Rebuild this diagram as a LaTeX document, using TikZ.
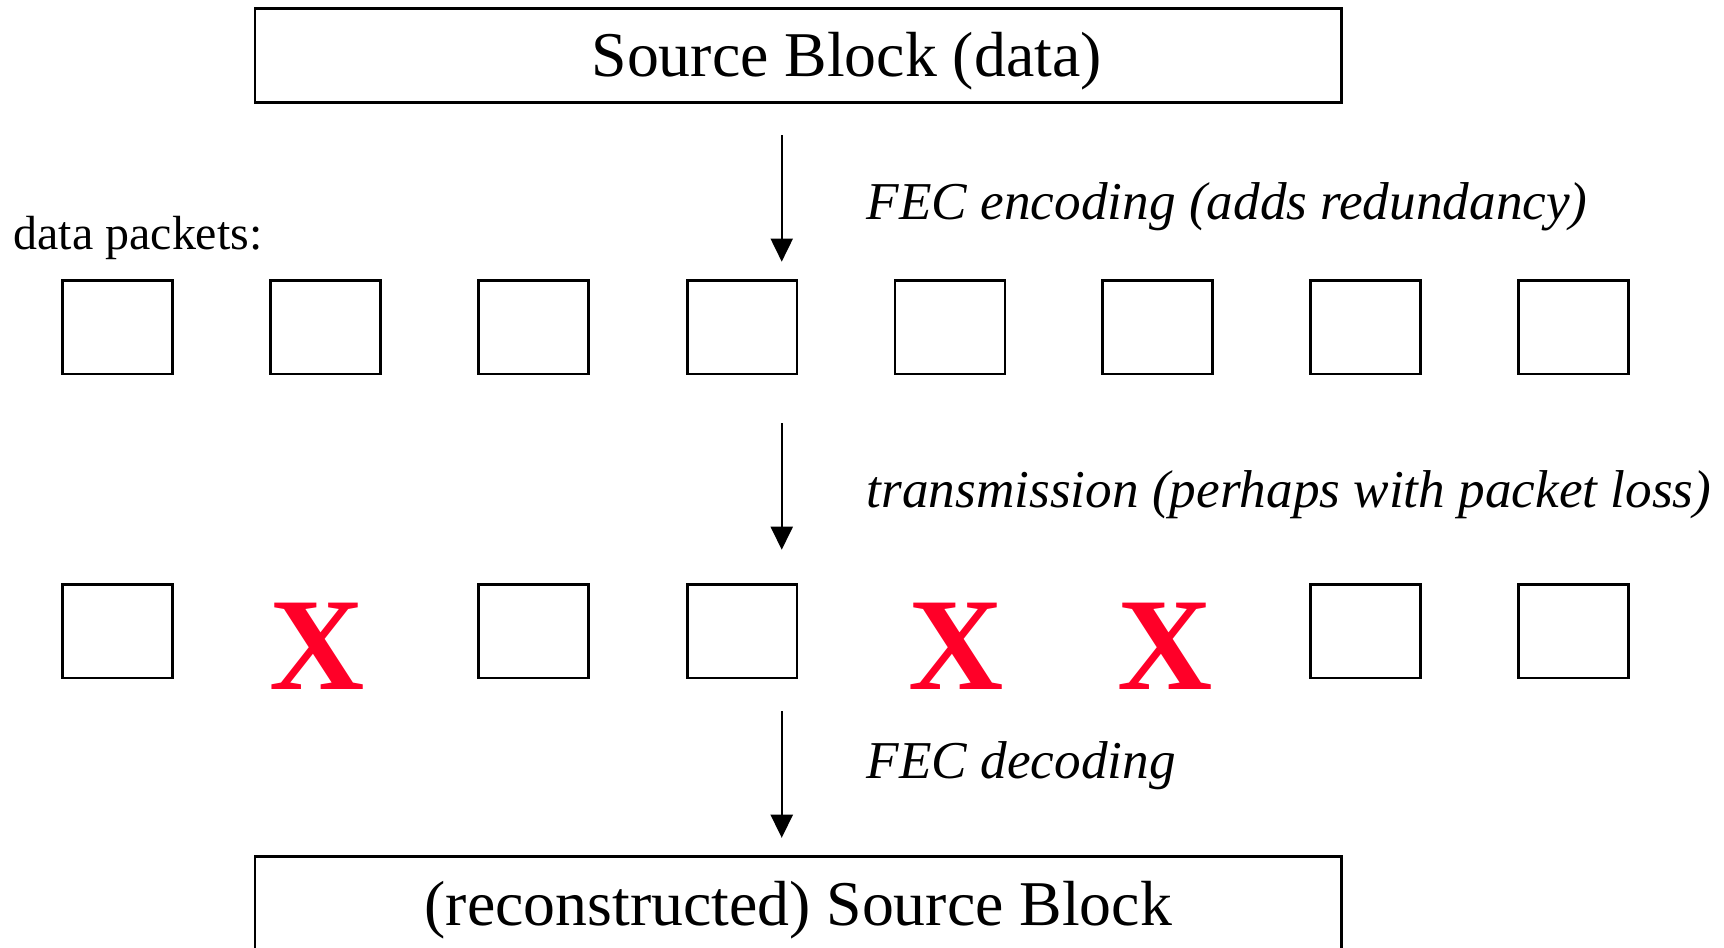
\documentclass[tikz,border=0pt]{standalone}
\usepackage{fontspec}
\setmainfont{Liberation Serif}
\usetikzlibrary{arrows.meta}
\definecolor{xred}{RGB}{255,0,40}
\begin{document}
\begin{tikzpicture}[x=0.5pt,y=-0.5pt,
  blk/.style={draw,line width=1.2pt,minimum width=494pt,minimum height=42.5pt,inner sep=0pt},
  pkt/.style={draw,line width=1.2pt,minimum width=50pt,minimum height=42.5pt,inner sep=0pt},
  lost/.style={text=xred,font=\fontsize{60}{60}\selectfont\bfseries,inner sep=0pt,anchor=base},
  lbl/.style={font=\fontsize{24.2}{28}\selectfont\itshape,anchor=base west,inner sep=0pt},
  big/.style={font=\fontsize{29}{34}\selectfont,anchor=base,inner sep=0pt},
  arr/.style={-{Triangle[length=10.5pt,width=10pt]},line width=1pt}]
\useasboundingbox (0,0) rectangle (1568,862);
\clip (0,0) rectangle (1568,862);
% blocks
\node[blk] (src) at (726,50.5) {};
\node[big] (srct) at (770,70) {Source Block (data)};
\node[blk] (rec) at (726,821.5) {};
\node[big] (rect) at (726,842) {(reconstructed) Source Block};
% labels
\node[font=\fontsize{21.8}{26}\selectfont,anchor=base west,inner sep=0pt] (dp) at (12,227) {data packets:};
\node[lbl] (l1) at (788,200) {FEC encoding (adds redundancy)};
\node[lbl] (l2) at (788,462) {transmission (perhaps with packet loss)};
\node[lbl] (l3) at (788,708) {FEC decoding};
% packets row 1
\foreach \i/\x in {1/107,2/296,3/485,4/675,5/864,6/1053,7/1242,8/1431}
  \node[pkt] (p\i) at (\x,297.5) {};
% packets row 2
\foreach \i/\x in {1/107,3/485,4/675,7/1242,8/1431}
  \node[pkt] (q\i) at (\x,574) {};
\node[lost] (q2) at (288,627) {X};
\node[lost] (q5) at (870,627) {X};
\node[lost] (q6) at (1060,627) {X};
% arrows
\coordinate (a1s) at (711,123); \coordinate (a1e) at (711,238);
\coordinate (a2s) at (711,385); \coordinate (a2e) at (711,500);
\coordinate (a3s) at (711,647); \coordinate (a3e) at (711,762);
\draw[arr] (a1s) -- (a1e);
\draw[arr] (a2s) -- (a2e);
\draw[arr] (a3s) -- (a3e);
\end{tikzpicture}
\end{document}
